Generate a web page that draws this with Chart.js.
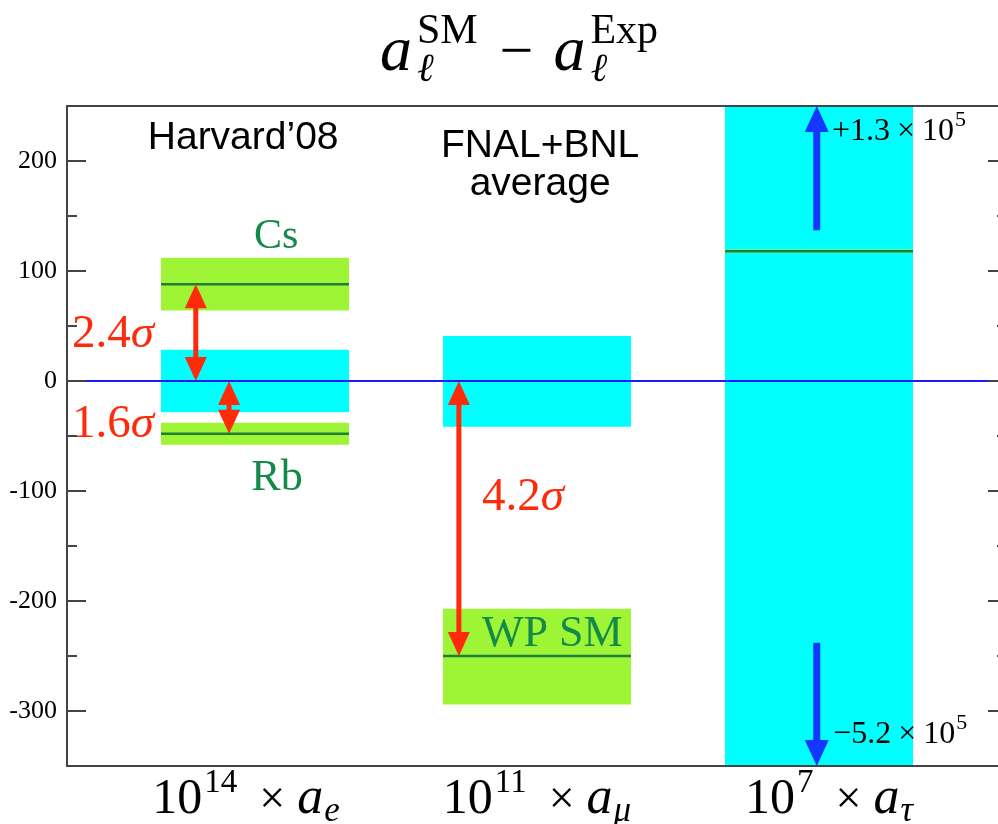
<!DOCTYPE html>
<html>
<head>
<meta charset="utf-8">
<script src="https://cdn.jsdelivr.net/npm/chart.js@4.4.1/dist/chart.umd.min.js"></script>
<style>
html, body { margin: 0; padding: 0; background: #fff; overflow: hidden; }
#wrap { width: 1010px; height: 824px; }
</style>
</head>
<body>
<div id="wrap"><canvas id="chart" width="1010" height="824"></canvas></div>
<script>
// axis ranges
const X_MIN = 1 / 3, X_MAX = 11 / 3, HALF = 1 / 3;
const Y_MIN = -350, Y_MAX = 250;

// categories (x ticks drawn as 10^exp x a_sub)
const categories = ['e', 'mu', 'tau'];
const catX = [1, 2, 3];
const tickBase = ['10', '10', '10'];
const tickExp = ['14', '11', '7'];
const tickSub = ['e', 'μ', 'τ'];

// experimental uncertainty bands (cyan), a_SM - a_Exp so centred on 0
const expLow = [-28.5, -41.5, -520000];
const expHigh = [28.5, 41, 130000];

// SM predictions (green bands + central line)
const smCat = [0, 0, 1, 2];
const smName = ['Cs', 'Rb', 'WP SM', ''];
const smValue = [88, -48, -250, 118];
const smLow = [64, -58, -294, 116.5];
const smHigh = [112, -38, -207, 119.5];

// tension arrows (red)
const tensionX = [0.79, 0.908, 1.723];
const tensionFrom = [88, 0, 0];
const tensionTo = [0, -48, -250];
const tensionLabel = ['2.4', '1.6', '4.2'];

// tau arrows (blue), band runs off the axis
const tauArrowX = 2.992;
const tauArrowFrom = [137, -238];
const tauArrowTo = [250, -350];
const tauArrowLabel = ['+1.3', '−5.2'];

const CYAN = '#00ffff';
const LIME = '#9ef535';
const DKGREEN = '#1f7f3a';
const TXTGREEN = '#13894a';
const RED = '#ff2a0a';
const BLUE = '#1438ff';
const ZERO = '#1a1aff';
const FRAME = '#444';

const SERIF = '"Liberation Serif", "DejaVu Serif", serif';
const SANS = '"Liberation Sans", Arial, sans-serif';
function f(size, style) { return (style || '') + ' ' + size + 'px ' + SERIF; }
function P(t, font, dy, pre, post) { return { t: t, f: font, dy: dy || 0, pre: pre || 0, post: post || 0 }; }

function band(x, lo, hi, color, order) {
    return {
        type: 'line',
        data: [{ x: x - HALF, y: hi }, { x: x + HALF, y: hi }],
        fill: { value: lo },
        backgroundColor: color,
        borderWidth: 0,
        pointRadius: 0,
        order: order
    };
}

function hline(x0, x1, y, color, width, order) {
    return {
        type: 'line',
        data: [{ x: x0, y: y }, { x: x1, y: y }],
        fill: false,
        borderColor: color,
        borderWidth: width,
        pointRadius: 0,
        order: order
    };
}

const datasets = [];
catX.forEach((c, i) => datasets.push(band(c, expLow[i], expHigh[i], CYAN, 4)));
smCat.forEach((k, i) => {
    datasets.push(band(catX[k], smLow[i], smHigh[i], LIME, 3));
    datasets.push(hline(catX[k] - HALF, catX[k] + HALF, smValue[i], DKGREEN, 2.5, 2));
});
datasets.push(hline(X_MIN, X_MAX, 0, ZERO, 2, 1));

// draws groups of text pieces; pieces in one group share the same x (sup/sub stacks)
function drawRich(ctx, groups, x, y, align, color) {
    ctx.save();
    ctx.fillStyle = color;
    ctx.textBaseline = 'alphabetic';
    ctx.textAlign = 'left';
    const widths = groups.map(g => Math.max(...g.map(p => {
        ctx.font = p.f;
        return p.pre + ctx.measureText(p.t).width + p.post;
    })));
    const total = widths.reduce((a, b) => a + b, 0);
    let cx = align === 'center' ? x - total / 2 : align === 'right' ? x - total : x;
    groups.forEach((g, i) => {
        g.forEach(p => {
            ctx.font = p.f;
            ctx.fillText(p.t, cx + p.pre, y + p.dy);
        });
        cx += widths[i];
    });
    ctx.restore();
}

function head(ctx, x, tip, dir, len, half) {
    // dir = 1 tip points down, -1 tip points up
    ctx.beginPath();
    ctx.moveTo(x, tip);
    ctx.lineTo(x - half, tip - dir * len);
    ctx.lineTo(x + half, tip - dir * len);
    ctx.closePath();
    ctx.fill();
}

const decor = {
    id: 'decor',
    afterDatasetsDraw(chart) {
        const ctx = chart.ctx, xs = chart.scales.x, ys = chart.scales.y;
        const area = chart.chartArea;
        ctx.save();
        ctx.beginPath();
        ctx.rect(area.left, area.top, area.right - area.left, area.bottom - area.top);
        ctx.clip();

        // red double arrows
        ctx.fillStyle = RED;
        ctx.strokeStyle = RED;
        ctx.lineWidth = 5;
        tensionX.forEach((v, i) => {
            const px = xs.getPixelForValue(v);
            const a = ys.getPixelForValue(Math.max(tensionFrom[i], tensionTo[i]));
            const b = ys.getPixelForValue(Math.min(tensionFrom[i], tensionTo[i]));
            const len = 24, half = 11;
            ctx.beginPath();
            ctx.moveTo(px, a + len - 2);
            ctx.lineTo(px, b - len + 2);
            ctx.stroke();
            head(ctx, px, a, -1, len, half);
            head(ctx, px, b, 1, len, half);
        });

        // blue single arrows
        ctx.fillStyle = BLUE;
        ctx.strokeStyle = BLUE;
        ctx.lineWidth = 7;
        tauArrowFrom.forEach((v, i) => {
            const px = xs.getPixelForValue(tauArrowX);
            const tail = ys.getPixelForValue(v);
            const tip = ys.getPixelForValue(tauArrowTo[i]);
            const dir = tip > tail ? 1 : -1;
            const len = 26, half = 12;
            ctx.beginPath();
            ctx.moveTo(px, tail);
            ctx.lineTo(px, tip - dir * (len - 2));
            ctx.stroke();
            head(ctx, px, tip, dir, len, half);
        });
        ctx.restore();

        const X = v => xs.getPixelForValue(v), Y = v => ys.getPixelForValue(v);

        // sigma labels
        const sigmaPos = [[0.351, 31], [0.351, -51], [1.805, -117]];
        tensionLabel.forEach((t, i) => {
            drawRich(ctx, [[P(t, f(47))], [P('σ', f(47, 'italic'))]],
                X(sigmaPos[i][0]), Y(sigmaPos[i][1]), 'left', RED);
        });

        // SM names
        const namePos = [[1.075, 121, 'center', 42], [1.078, -99, 'center', 44], [1.805, -241, 'left', 44]];
        smName.forEach((t, i) => {
            if (!t) return;
            const p = namePos[i];
            drawRich(ctx, [[P(t, f(p[3]))]], X(p[0]), Y(p[1]), p[2], TXTGREEN);
        });

        // tau arrow labels
        const tauPos = [[3.046, 219], [3.05, -329]];
        tauArrowLabel.forEach((t, i) => {
            drawRich(ctx, [[P(t, f(32))], [P('×', f(32), 0, 7, 7)], [P('10', f(32))], [P('5', f(22), -14, 1)]],
                X(tauPos[i][0]), Y(tauPos[i][1]), 'left', '#000');
        });

        // experiment names
        ctx.save();
        ctx.fillStyle = '#000';
        ctx.font = '39px ' + SANS;
        ctx.textAlign = 'center';
        ctx.textBaseline = 'alphabetic';
        ctx.fillText('Harvard’08', X(0.958), Y(211));
        ctx.fillText('FNAL+BNL', X(2.011), Y(203.6));
        ctx.fillText('average', X(2.011), Y(169));
        ctx.restore();
    },
    afterDraw(chart) {
        const ctx = chart.ctx, ys = chart.scales.y, xs = chart.scales.x;
        const a = chart.chartArea;
        ctx.save();
        ctx.strokeStyle = FRAME;
        ctx.lineWidth = 2;
        ctx.strokeRect(a.left, a.top, a.right - a.left, a.bottom - a.top);
        ctx.beginPath();
        for (let v = Y_MIN; v <= Y_MAX; v += 50) {
            const py = ys.getPixelForValue(v);
            const len = v % 100 === 0 ? 19 : 10;
            ctx.moveTo(a.left, py); ctx.lineTo(a.left + len, py);
            ctx.moveTo(a.right, py); ctx.lineTo(a.right - len, py);
        }
        ctx.stroke();
        ctx.restore();

        // title
        drawRich(ctx, [
            [P('a', f(64, 'italic'))],
            [P('SM', f(42), -27, 5), P('ℓ', f(40, 'italic'), 11, 5)],
            [P('−', f(60), 0, 22, 20)],
            [P('a', f(64, 'italic'))],
            [P('Exp', f(42), -27, 5), P('ℓ', f(40, 'italic'), 11, 5)]
        ], 519, 70, 'center', '#000');

        // x tick labels
        const shift = [-9, 0, 10];
        catX.forEach((c, i) => {
            drawRich(ctx, [
                [P(tickBase[i], f(50))],
                [P(tickExp[i], f(33), -21, 2)],
                [P('×', f(46), 0, 22, 12)],
                [P('a', f(52, 'italic'))],
                [P(tickSub[i], f(35, 'italic'), 8, 1)]
            ], xs.getPixelForValue(c) + shift[i], 813, 'center', '#000');
        });
    }
};

new Chart(document.getElementById('chart'), {
    type: 'line',
    data: { datasets: datasets },
    options: {
        responsive: false,
        animation: false,
        devicePixelRatio: 1,
        layout: { padding: { top: 106, bottom: 58, left: 0, right: 3 } },
        plugins: { legend: { display: false }, tooltip: { enabled: false } },
        scales: {
            x: { type: 'linear', min: X_MIN, max: X_MAX, display: false },
            y: {
                type: 'linear',
                min: Y_MIN,
                max: Y_MAX,
                afterFit(scale) { scale.width = 67; },
                grid: { display: false, drawTicks: false },
                border: { display: false },
                ticks: {
                    stepSize: 50,
                    padding: 10,
                    color: '#000',
                    font: { family: SERIF, size: 26 },
                    callback: v => (v % 100 === 0 && v > Y_MIN && v < Y_MAX) ? String(v) : ''
                }
            }
        }
    },
    plugins: [decor]
});
</script>
</body>
</html>
